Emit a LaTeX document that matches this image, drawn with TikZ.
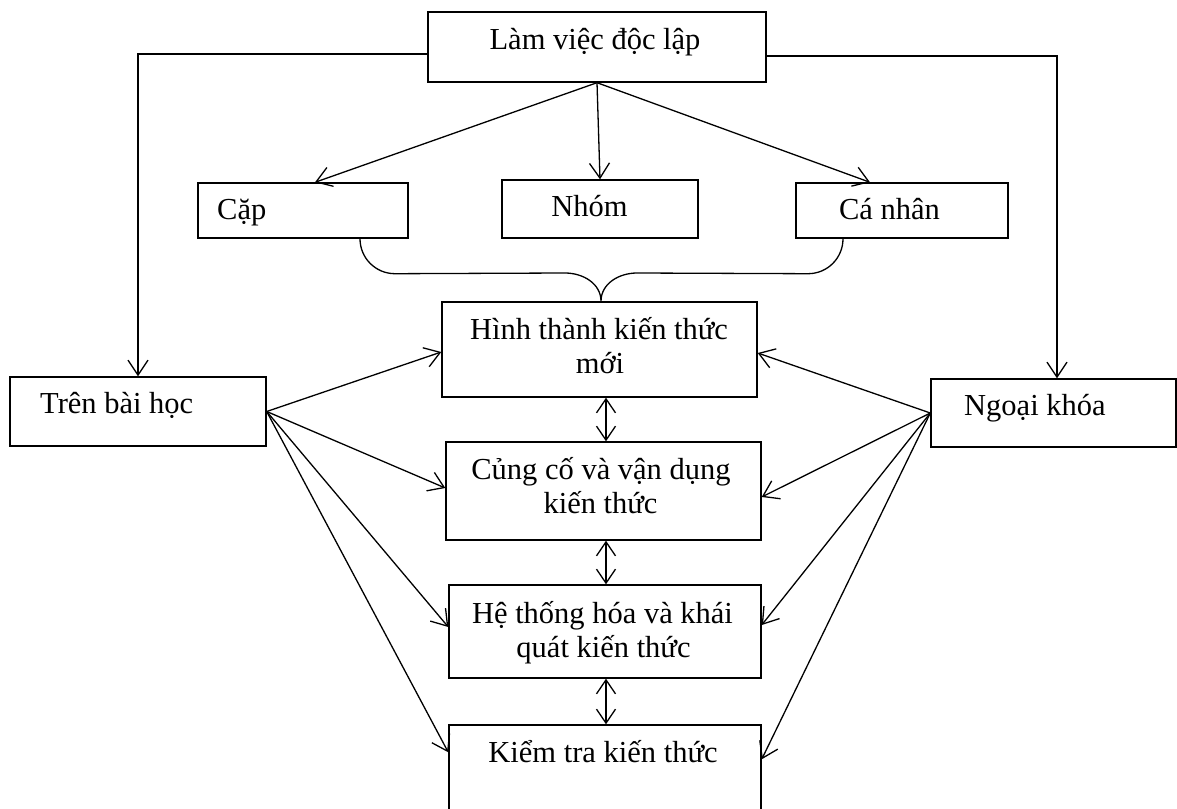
\documentclass[tikz,border=0pt]{standalone}
\usepackage{fontspec}
\setmainfont{Liberation Serif}
\usetikzlibrary{arrows.meta}
\tikzset{
  bx/.style={draw, inner sep=0pt, line width=1.4pt},
  txt/.style={inner sep=0pt, anchor=base, font=\fontsize{30.5}{34}\selectfont},
  arr/.style={line width=1.3pt, -{Straight Barb[length=15pt,width=20pt,line width=1.3pt]}},
  darr/.style={line width=1.3pt, {Straight Barb[length=14pt,width=19pt,line width=1.3pt]}-{Straight Barb[length=14pt,width=19pt,line width=1.3pt]}},
  ln/.style={line width=1.3pt}
}
\begin{document}
\begin{tikzpicture}[x=1pt,y=-1pt]
\useasboundingbox (0,0) rectangle (1177,808);
\fill[white] (0,0) rectangle (1177,808);
\clip (0,0) rectangle (1177,808);
% boxes
\node[bx, minimum width=338pt, minimum height=70pt] (lam) at (597,47) {};
\node[bx, minimum width=210pt, minimum height=55pt] (cap) at (303,210.5) {};
\node[bx, minimum width=196pt, minimum height=58pt] (nhom) at (600,209) {};
\node[bx, minimum width=212pt, minimum height=55pt] (canhan) at (902,210.5) {};
\node[bx, minimum width=315pt, minimum height=95pt] (hinh) at (599.5,349.5) {};
\node[bx, minimum width=315pt, minimum height=98pt] (cung) at (603.5,491) {};
\node[bx, minimum width=312pt, minimum height=93pt] (he) at (605,631.5) {};
\node[bx, minimum width=312pt, minimum height=115pt] (kiem) at (605,782.5) {};
\node[bx, minimum width=256pt, minimum height=69pt] (tren) at (138,411.5) {};
\node[bx, minimum width=245pt, minimum height=68pt] (ngoai) at (1053.5,413) {};
% texts
\node[txt] (tlam) at (595,50) {Làm việc độc lập};
\node[txt, anchor=base west] (tcap) at (217,219) {Cặp};
\node[txt] (tnhom) at (589.5,216) {Nhóm};
\node[txt] (tcanhan) at (889.5,219) {Cá nhân};
\node[txt, anchor=base west] (ttren) at (40,413) {Trên bài học};
\node[txt, anchor=base west] (tngoai) at (964,415) {Ngoại khóa};
\node[txt] (thinh1) at (599,339) {Hình thành kiến thức};
\node[txt] (thinh2) at (600,373) {mới};
\node[txt] (tcung1) at (601,479) {Củng cố và vận dụng};
\node[txt] (tcung2) at (600.5,513) {kiến thức};
\node[txt] (the1) at (602.5,623) {Hệ thống hóa và khái};
\node[txt] (the2) at (603.5,657) {quát kiến thức};
\node[txt] (tkiem) at (603,762) {Kiểm tra kiến thức};
% top connectors
\draw[arr] ([yshift=-7pt]lam.west) -| (tren.north);
\draw[arr] ([yshift=-9pt]lam.east) -| ([xshift=3.5pt]ngoai.north);
\draw[arr] (lam.south) -- ([xshift=12pt]cap.north);
\draw[arr] (lam.south) -- (nhom.north);
\draw[arr] (lam.south) -- ([xshift=-32pt]canhan.north);
% brace
\coordinate (bl) at ([xshift=57pt]cap.south);
\coordinate (br) at ([xshift=-59pt]canhan.south);
\draw[ln] (bl) to[out=-90,in=180] ([xshift=35pt,yshift=-35pt]bl)
  -- (565,273) to[out=0,in=90] ([xshift=1.5pt]hinh.north)
  to[out=90,in=180] (637,273)
  -- ([xshift=-35pt,yshift=-35pt]br) to[out=0,in=-90] (br);
% left fan
\draw[arr] (tren.east) -- ([yshift=-2.5pt]hinh.west);
\draw[arr] (tren.east) -- ([yshift=3pt]cung.west);
\draw[arr] (tren.east) -- ([yshift=4.5pt]he.west);
\draw[arr] (tren.east) -- ([yshift=-28pt]kiem.north west);
% right fan
\draw[arr] (ngoai.west) -- ([yshift=-3.5pt]hinh.east);
\draw[arr] (ngoai.west) -- ([yshift=-6pt]cung.east);
\draw[arr] (ngoai.west) -- ([yshift=6.5pt]he.east);
\draw[arr] (ngoai.west) -- ([yshift=-35pt]kiem.north east);
% vertical double arrows
\draw[darr] ([xshift=6.5pt]hinh.south) -- ([xshift=2.5pt]cung.north);
\draw[darr] ([xshift=2.5pt]cung.south) -- ([xshift=1pt]he.north);
\draw[darr] ([xshift=1pt]he.south) -- ([xshift=1pt]kiem.north);
\end{tikzpicture}
\end{document}
